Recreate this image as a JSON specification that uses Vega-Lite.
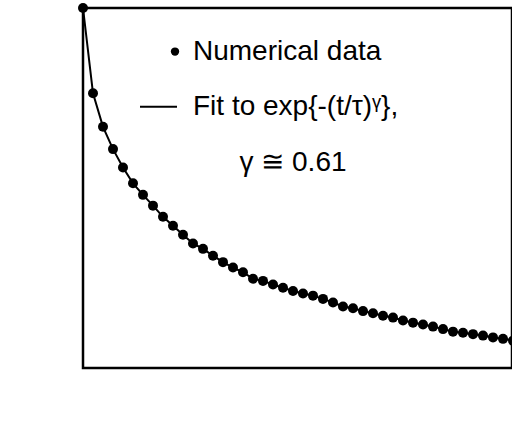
{
  "$schema": "https://vega.github.io/schema/vega-lite/v6.json",
  "width": 429,
  "height": 360,
  "autosize": "none",
  "padding": {"left": 83, "top": 8, "right": 0, "bottom": 56},
  "background": "white",
  "config": {
    "view": {"stroke": "black", "strokeWidth": 2.5},
    "font": "Liberation Sans",
    "axis": {
      "ticks": true, "zindex": 1, "domain": false,
      "tickColor": "black", "tickWidth": 2, "tickSize": 6,
      "labelColor": "black", "labelFontSize": 17, "labelFont": "Liberation Sans",
      "titleFont": "Liberation Sans", "titleFontWeight": "normal", "titleColor": "black",
      "grid": false
    }
  },
  "datasets": {
    "cv": [
      {"t": 0, "c": 1.0}, {"t": 1, "c": 0.763}, {"t": 2, "c": 0.670}, {"t": 3, "c": 0.608},
      {"t": 4, "c": 0.557}, {"t": 5, "c": 0.513}, {"t": 6, "c": 0.481}, {"t": 7, "c": 0.451},
      {"t": 8, "c": 0.420}, {"t": 9, "c": 0.395}, {"t": 10, "c": 0.370}, {"t": 11, "c": 0.346},
      {"t": 12, "c": 0.331}, {"t": 13, "c": 0.312}, {"t": 14, "c": 0.294}, {"t": 15, "c": 0.279},
      {"t": 16, "c": 0.266}, {"t": 17, "c": 0.248}, {"t": 18, "c": 0.242}, {"t": 19, "c": 0.232},
      {"t": 20, "c": 0.223}, {"t": 21, "c": 0.214}, {"t": 22, "c": 0.207}, {"t": 23, "c": 0.201},
      {"t": 24, "c": 0.192}, {"t": 25, "c": 0.182}, {"t": 26, "c": 0.171}, {"t": 27, "c": 0.166},
      {"t": 28, "c": 0.158}, {"t": 29, "c": 0.152}, {"t": 30, "c": 0.145}, {"t": 31, "c": 0.140},
      {"t": 32, "c": 0.132}, {"t": 33, "c": 0.126}, {"t": 34, "c": 0.121}, {"t": 35, "c": 0.115},
      {"t": 36, "c": 0.108}, {"t": 37, "c": 0.101}, {"t": 38, "c": 0.098}, {"t": 39, "c": 0.094},
      {"t": 40, "c": 0.090}, {"t": 41, "c": 0.085}, {"t": 42, "c": 0.081}, {"t": 43, "c": 0.076}
    ],
    "legendDot": [{"t": 9.2, "c": 0.879}],
    "legendLine": [{"t": 5.7, "t2": 9.4, "c": 0.726}],
    "legendText": [
      {"t": 11.0, "c": 0.879, "label": "Numerical data"},
      {"t": 11.0, "c": 0.726, "label": "Fit to exp{-(t/τ)ᵞ},"}
    ],
    "legendText2": [{"t": 21.0, "c": 0.569, "label": "γ ≅ 0.61"}]
  },
  "layer": [
    {
      "data": {"name": "cv"},
      "mark": {"type": "line", "color": "black", "strokeWidth": 2},
      "encoding": {
        "x": {"field": "t", "type": "quantitative", "scale": {"domain": [0, 42.9], "nice": false, "zero": false},
          "axis": {"orient": "bottom", "title": "time t", "titleFontSize": 24, "titlePadding": 3,
            "tickCount": 5, "labelPadding": 4}},
        "y": {"field": "c", "type": "quantitative", "scale": {"domain": [0, 1], "nice": false},
          "axis": {"orient": "left", "title": "Cᵥ(t)", "titleFontSize": 24, "titleAngle": -90,
            "titleX": -58, "titleY": 192, "titleAlign": "center", "titleBaseline": "alphabetic",
            "tickCount": 5, "format": ".1f", "labelPadding": 8}}
      }
    },
    {
      "data": {"name": "cv"},
      "mark": {"type": "circle", "size": 100, "color": "black", "opacity": 1},
      "encoding": {
        "x": {"field": "t", "type": "quantitative", "axis": null},
        "y": {"field": "c", "type": "quantitative", "axis": null}
      }
    },
    {
      "data": {"name": "legendDot"},
      "mark": {"type": "circle", "size": 70, "color": "black", "opacity": 1},
      "encoding": {
        "x": {"field": "t", "type": "quantitative", "axis": null},
        "y": {"field": "c", "type": "quantitative", "axis": null}
      }
    },
    {
      "data": {"name": "legendLine"},
      "mark": {"type": "rule", "color": "black", "strokeWidth": 2},
      "encoding": {
        "x": {"field": "t", "type": "quantitative", "axis": null},
        "x2": {"field": "t2"},
        "y": {"field": "c", "type": "quantitative", "axis": null}
      }
    },
    {
      "data": {"name": "legendText"},
      "mark": {"type": "text", "align": "left", "baseline": "middle", "fontSize": 28, "font": "Liberation Sans", "color": "black"},
      "encoding": {
        "x": {"field": "t", "type": "quantitative", "axis": null},
        "y": {"field": "c", "type": "quantitative", "axis": null},
        "text": {"field": "label"}
      }
    },
    {
      "data": {"name": "legendText2"},
      "mark": {"type": "text", "align": "center", "baseline": "middle", "fontSize": 28, "font": "Liberation Sans", "color": "black"},
      "encoding": {
        "x": {"field": "t", "type": "quantitative", "axis": null},
        "y": {"field": "c", "type": "quantitative", "axis": null},
        "text": {"field": "label"}
      }
    }
  ]
}
